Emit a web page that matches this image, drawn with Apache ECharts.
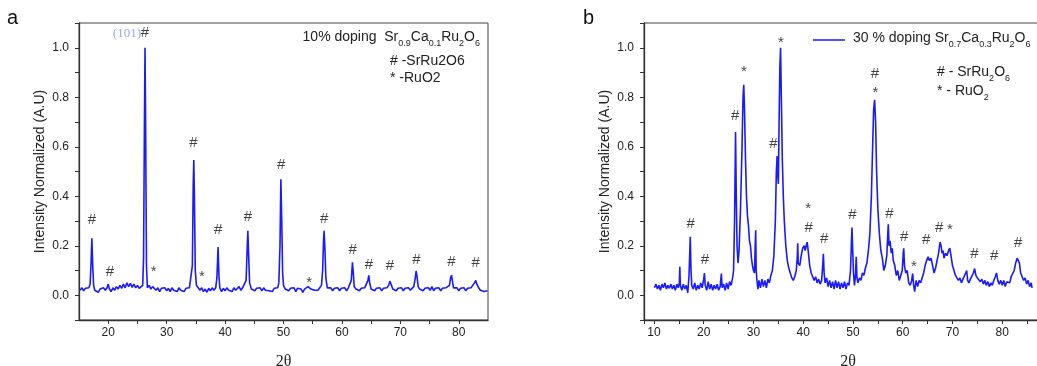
<!DOCTYPE html>
<html>
<head>
<meta charset="utf-8">
<script src="https://cdn.jsdelivr.net/npm/echarts@6/dist/echarts.min.js"></script>
<style>
  html, body { margin: 0; padding: 0; background: #fff; }
  #chart { width: 1037px; height: 366px; }
</style>
</head>
<body>
<div id="chart"></div>
<script>
// XRD pattern, 10% Ca doping (panel a): [2theta, normalized intensity]
var spectrum10 = [
  [15.2, 0.02], [15.5, 0.03], [15.8, 0.018], [16.1, 0.028], [16.4, 0.02], [16.7, 0.03], [16.9, 0.045],
  [17.05, 0.12], [17.2, 0.23], [17.35, 0.12], [17.5, 0.04], [17.7, 0.02], [18.0, 0.028], [18.3, 0.012],
  [18.6, 0.025], [18.9, 0.018], [19.2, 0.03], [19.5, 0.02], [19.8, 0.03], [20.0, 0.045], [20.2, 0.025],
  [20.5, 0.015], [20.8, 0.03], [21.1, 0.02], [21.4, 0.035], [21.7, 0.025], [22.0, 0.04], [22.3, 0.028],
  [22.6, 0.045], [22.9, 0.03], [23.2, 0.05], [23.5, 0.035], [23.8, 0.048], [24.1, 0.032], [24.4, 0.045],
  [24.7, 0.03], [25.0, 0.04], [25.3, 0.028], [25.6, 0.035], [25.9, 0.04], [26.05, 0.15], [26.2, 0.7],
  [26.3, 1.0], [26.4, 0.7], [26.55, 0.12], [26.7, 0.03], [27.0, 0.04], [27.3, 0.025], [27.6, 0.035],
  [27.9, 0.04], [28.2, 0.02], [28.5, 0.03], [28.8, 0.015], [29.1, 0.028], [29.4, 0.02], [29.7, 0.03],
  [30.0, 0.018], [30.3, 0.028], [30.6, 0.015], [30.9, 0.03], [31.2, 0.02], [31.5, 0.028], [31.8, 0.015],
  [32.1, 0.03], [32.4, 0.02], [32.7, 0.025], [33.0, 0.015], [33.3, 0.028], [33.6, 0.02], [33.9, 0.03],
  [34.2, 0.035], [34.4, 0.12], [34.55, 0.45], [34.65, 0.546], [34.75, 0.4], [34.9, 0.1], [35.1, 0.04],
  [35.4, 0.03], [35.7, 0.02], [36.0, 0.03], [36.3, 0.015], [36.6, 0.025], [36.9, 0.012], [37.2, 0.028],
  [37.5, 0.018], [37.8, 0.03], [38.1, 0.02], [38.4, 0.03], [38.6, 0.07], [38.8, 0.195], [38.95, 0.08],
  [39.1, 0.03], [39.4, 0.015], [39.7, 0.028], [40.0, 0.018], [40.3, 0.03], [40.6, 0.02], [40.9, 0.028],
  [41.2, 0.015], [41.5, 0.03], [41.8, 0.02], [42.1, 0.025], [42.4, 0.035], [42.7, 0.02], [43.0, 0.03],
  [43.3, 0.025], [43.6, 0.06], [43.8, 0.2], [43.9, 0.26], [44.05, 0.15], [44.2, 0.05], [44.5, 0.025],
  [44.8, 0.03], [45.1, 0.018], [45.4, 0.028], [45.7, 0.02], [46.0, 0.03], [46.3, 0.018], [46.6, 0.03],
  [46.9, 0.02], [47.2, 0.028], [47.5, 0.018], [47.8, 0.025], [48.1, 0.015], [48.4, 0.028], [48.7, 0.02],
  [49.0, 0.03], [49.2, 0.05], [49.4, 0.2], [49.55, 0.469], [49.7, 0.3], [49.85, 0.09], [50.0, 0.04],
  [50.3, 0.025], [50.6, 0.03], [50.9, 0.018], [51.2, 0.028], [51.5, 0.02], [51.8, 0.03], [52.1, 0.015],
  [52.4, 0.028], [52.7, 0.02], [53.0, 0.025], [53.3, 0.012], [53.6, 0.025], [53.9, 0.02], [54.2, 0.035],
  [54.4, 0.04], [54.7, 0.025], [55.0, 0.03], [55.3, 0.02], [55.6, 0.028], [55.9, 0.02], [56.2, 0.03],
  [56.5, 0.04], [56.7, 0.1], [56.85, 0.22], [56.95, 0.26], [57.1, 0.18], [57.25, 0.07], [57.5, 0.03],
  [57.8, 0.025], [58.1, 0.03], [58.4, 0.018], [58.7, 0.028], [59.0, 0.02], [59.3, 0.03], [59.6, 0.018],
  [59.9, 0.028], [60.2, 0.02], [60.5, 0.03], [60.8, 0.018], [61.1, 0.03], [61.4, 0.025], [61.6, 0.06],
  [61.8, 0.133], [61.95, 0.09], [62.1, 0.035], [62.4, 0.025], [62.7, 0.03], [63.0, 0.018], [63.3, 0.028],
  [63.6, 0.02], [63.9, 0.03], [64.2, 0.025], [64.45, 0.06], [64.6, 0.08], [64.75, 0.05], [65.0, 0.025],
  [65.3, 0.03], [65.6, 0.018], [65.9, 0.028], [66.2, 0.02], [66.5, 0.03], [66.8, 0.018], [67.1, 0.028],
  [67.4, 0.02], [67.7, 0.03], [68.0, 0.04], [68.2, 0.057], [68.4, 0.045], [68.7, 0.025], [69.0, 0.03],
  [69.3, 0.018], [69.6, 0.028], [69.9, 0.02], [70.2, 0.03], [70.5, 0.018], [70.8, 0.028], [71.1, 0.02],
  [71.4, 0.03], [71.7, 0.02], [72.0, 0.028], [72.3, 0.035], [72.55, 0.07], [72.7, 0.098], [72.85, 0.075],
  [73.05, 0.035], [73.3, 0.025], [73.6, 0.03], [73.9, 0.018], [74.2, 0.028], [74.5, 0.02], [74.8, 0.03],
  [75.1, 0.02], [75.4, 0.035], [75.7, 0.018], [76.0, 0.028], [76.3, 0.02], [76.6, 0.03], [76.9, 0.018],
  [77.2, 0.028], [77.5, 0.02], [77.8, 0.03], [78.1, 0.025], [78.4, 0.04], [78.6, 0.07], [78.75, 0.081],
  [78.9, 0.06], [79.1, 0.03], [79.4, 0.025], [79.7, 0.03], [80.0, 0.018], [80.3, 0.028], [80.6, 0.02],
  [80.9, 0.03], [81.2, 0.018], [81.5, 0.028], [81.8, 0.02], [82.1, 0.03], [82.4, 0.035], [82.7, 0.05],
  [82.9, 0.06], [83.1, 0.045], [83.4, 0.03], [83.7, 0.02], [84.0, 0.025], [84.3, 0.015], [84.6, 0.022],
  [84.9, 0.018]
];

// XRD pattern, 30% Ca doping (panel b)
var spectrum30 = [
  [10.1, 0.03], [10.4, 0.045], [10.7, 0.025], [11.0, 0.04], [11.3, 0.02], [11.6, 0.045], [11.9, 0.03],
  [12.2, 0.05], [12.5, 0.025], [12.8, 0.04], [13.1, 0.028], [13.4, 0.045], [13.7, 0.025], [14.0, 0.04],
  [14.3, 0.02], [14.6, 0.045], [14.9, 0.03], [15.1, 0.05], [15.2, 0.115], [15.3, 0.04], [15.6, 0.02],
  [15.9, 0.045], [16.2, 0.025], [16.5, 0.04], [16.8, 0.01], [17.05, 0.08], [17.3, 0.236], [17.45, 0.1],
  [17.6, 0.04], [17.9, 0.025], [18.2, 0.05], [18.5, 0.02], [18.8, 0.04], [19.1, 0.025], [19.4, 0.05],
  [19.7, 0.03], [20.0, 0.065], [20.15, 0.09], [20.3, 0.04], [20.6, 0.02], [20.9, 0.055], [21.2, 0.025],
  [21.5, 0.045], [21.8, 0.02], [22.1, 0.04], [22.4, 0.025], [22.7, 0.045], [23.0, 0.02], [23.3, 0.035],
  [23.55, 0.088], [23.7, 0.03], [24.0, 0.045], [24.3, 0.02], [24.6, 0.05], [24.9, 0.025], [25.2, 0.055],
  [25.5, 0.04], [25.8, 0.07], [26.0, 0.1], [26.2, 0.3], [26.4, 0.66], [26.55, 0.4], [26.7, 0.2],
  [26.9, 0.13], [27.1, 0.18], [27.4, 0.35], [27.7, 0.6], [27.9, 0.8], [28.05, 0.85], [28.2, 0.75],
  [28.4, 0.55], [28.6, 0.4], [28.8, 0.32], [29.0, 0.28], [29.2, 0.22], [29.4, 0.2], [29.6, 0.15],
  [29.8, 0.12], [30.0, 0.1], [30.2, 0.09], [30.35, 0.2], [30.45, 0.263], [30.55, 0.1], [30.7, 0.06],
  [30.9, 0.025], [31.1, 0.06], [31.4, 0.03], [31.7, 0.065], [32.0, 0.035], [32.3, 0.06], [32.6, 0.03],
  [32.9, 0.065], [33.2, 0.05], [33.5, 0.08], [33.8, 0.1], [34.1, 0.16], [34.4, 0.3], [34.6, 0.5],
  [34.75, 0.562], [34.9, 0.48], [35.0, 0.45], [35.15, 0.7], [35.3, 0.92], [35.45, 1.0], [35.6, 0.8],
  [35.8, 0.55], [36.0, 0.4], [36.2, 0.3], [36.5, 0.2], [36.8, 0.14], [37.1, 0.11], [37.4, 0.09],
  [37.7, 0.07], [38.0, 0.06], [38.3, 0.075], [38.6, 0.1], [38.8, 0.15], [38.9, 0.21], [39.0, 0.13],
  [39.3, 0.12], [39.6, 0.16], [39.9, 0.19], [40.2, 0.2], [40.4, 0.18], [40.6, 0.2], [40.8, 0.215],
  [41.0, 0.18], [41.3, 0.12], [41.6, 0.09], [41.9, 0.075], [42.2, 0.06], [42.5, 0.075], [42.8, 0.05],
  [43.1, 0.065], [43.4, 0.045], [43.7, 0.06], [43.95, 0.13], [44.05, 0.168], [44.2, 0.09], [44.4, 0.05],
  [44.7, 0.07], [45.0, 0.035], [45.3, 0.06], [45.6, 0.03], [45.9, 0.055], [46.2, 0.025], [46.5, 0.06],
  [46.8, 0.03], [47.1, 0.055], [47.4, 0.025], [47.7, 0.05], [48.0, 0.03], [48.3, 0.055], [48.6, 0.025],
  [48.9, 0.05], [49.2, 0.04], [49.5, 0.1], [49.7, 0.22], [49.8, 0.274], [49.95, 0.18], [50.1, 0.09],
  [50.3, 0.04], [50.5, 0.08], [50.65, 0.155], [50.8, 0.07], [51.0, 0.05], [51.3, 0.07], [51.6, 0.06],
  [51.9, 0.09], [52.2, 0.08], [52.5, 0.11], [52.8, 0.13], [53.1, 0.18], [53.4, 0.25], [53.7, 0.4],
  [53.95, 0.6], [54.15, 0.75], [54.35, 0.79], [54.55, 0.7], [54.75, 0.5], [55.0, 0.35], [55.3, 0.25],
  [55.6, 0.18], [55.9, 0.15], [56.2, 0.1], [56.5, 0.12], [56.8, 0.16], [57.0, 0.25], [57.1, 0.287],
  [57.25, 0.2], [57.45, 0.22], [57.7, 0.17], [57.9, 0.19], [58.1, 0.14], [58.4, 0.12], [58.7, 0.08],
  [59.0, 0.1], [59.3, 0.06], [59.6, 0.08], [59.9, 0.1], [60.1, 0.17], [60.2, 0.19], [60.35, 0.12],
  [60.6, 0.09], [60.9, 0.1], [61.2, 0.05], [61.5, 0.04], [61.8, 0.06], [62.0, 0.088], [62.2, 0.04],
  [62.4, 0.015], [62.7, 0.06], [63.0, 0.035], [63.3, 0.06], [63.6, 0.05], [63.9, 0.07], [64.2, 0.09],
  [64.5, 0.12], [64.8, 0.14], [65.1, 0.155], [65.4, 0.14], [65.7, 0.15], [66.0, 0.12], [66.3, 0.09],
  [66.6, 0.11], [66.9, 0.14], [67.2, 0.17], [67.5, 0.215], [67.7, 0.2], [67.9, 0.17], [68.1, 0.18],
  [68.3, 0.15], [68.6, 0.17], [68.9, 0.16], [69.2, 0.18], [69.45, 0.19], [69.7, 0.16], [70.0, 0.12],
  [70.3, 0.1], [70.6, 0.08], [70.9, 0.085], [71.2, 0.06], [71.5, 0.07], [71.8, 0.05], [72.1, 0.065],
  [72.4, 0.06], [72.65, 0.09], [72.85, 0.1], [73.05, 0.06], [73.3, 0.05], [73.6, 0.065], [73.9, 0.07],
  [74.2, 0.09], [74.45, 0.108], [74.7, 0.08], [75.0, 0.07], [75.3, 0.075], [75.6, 0.055], [75.9, 0.065],
  [76.2, 0.045], [76.5, 0.06], [76.8, 0.04], [77.1, 0.055], [77.4, 0.035], [77.7, 0.05], [78.0, 0.04],
  [78.3, 0.06], [78.6, 0.075], [78.85, 0.09], [79.1, 0.06], [79.4, 0.045], [79.7, 0.06], [80.0, 0.04],
  [80.3, 0.06], [80.6, 0.035], [80.9, 0.055], [81.2, 0.06], [81.5, 0.05], [81.8, 0.075], [82.1, 0.08],
  [82.4, 0.1], [82.7, 0.13], [83.0, 0.15], [83.2, 0.157], [83.45, 0.13], [83.7, 0.09], [84.0, 0.075],
  [84.3, 0.06], [84.6, 0.07], [84.9, 0.045], [85.2, 0.06], [85.5, 0.035], [85.8, 0.05], [86.0, 0.03]
];

// phase markers: [2theta, height, symbol]   # = SrRu2O6, * = RuO2
var marks10 = [
  [17.2, 0.303, '#'], [20.3, 0.093, '#'], [26.3, 1.06, '#'], [27.8, 0.105, '*'], [34.6, 0.616, '#'],
  [36.05, 0.085, '*'], [38.8, 0.263, '#'], [43.9, 0.317, '#'], [49.6, 0.526, '#'], [54.4, 0.063, '*'],
  [56.95, 0.31, '#'], [61.85, 0.182, '#'], [64.6, 0.124, '#'], [68.2, 0.119, '#'], [72.75, 0.144, '#'],
  [78.75, 0.135, '#'], [82.9, 0.132, '#']
];
var miller10 = [[26.3, 1.06, '(101)']];
var marks30 = [
  [17.4, 0.287, '#'], [20.26, 0.144, '#'], [26.3, 0.725, '#'], [28.1, 0.914, '*'], [34.0, 0.613, '#'],
  [35.5, 1.031, '*'], [41.0, 0.361, '*'], [41.1, 0.272, '#'], [44.2, 0.229, '#'], [49.9, 0.326, '#'],
  [54.4, 0.894, '#'], [54.5, 0.829, '*'], [57.3, 0.33, '#'], [60.3, 0.236, '#'], [62.26, 0.128, '*'],
  [64.7, 0.225, '#'], [67.3, 0.272, '#'], [69.5, 0.276, '*'], [74.4, 0.169, '#'], [78.4, 0.159, '#'],
  [83.2, 0.213, '#']
];

var xTickLabels = [10, 20, 30, 40, 50, 60, 70, 80];
var yTickLabels = ['0.0', '0.2', '0.4', '0.6', '0.8', '1.0'];

var FONT = '"Liberation Sans", Arial, sans-serif';
var SERIF = '"Liberation Serif", "Times New Roman", serif';
var BLUE = '#1a1aff';
var INK = '#222';

var chart = echarts.init(document.getElementById('chart'));

var richSub = {
  n: { fontFamily: FONT, fontSize: 14, fontWeight: 'normal', lineHeight: 18, verticalAlign: 'top', color: INK },
  s: { fontFamily: FONT, fontSize: 9, fontWeight: 'normal', lineHeight: 9, padding: [9, 0, 0, 0], verticalAlign: 'top', color: INK }
};

function xAxisFor(gi, min, max, interval) {
  var ax = {
    type: 'value', gridIndex: gi, min: min, max: max,
    name: '2\u03b8', nameLocation: 'middle', nameGap: 34,
    nameTextStyle: { fontFamily: SERIF, fontSize: 16, color: INK },
    axisLine: { onZero: false, lineStyle: { color: '#333', width: 1.3 } },
    axisTick: { length: 4, lineStyle: { color: '#333' } },
    axisLabel: {
      margin: 7, fontFamily: FONT, fontSize: 12, color: INK,
      showMinLabel: false, showMaxLabel: false,
      formatter: function (v) { return xTickLabels.indexOf(Math.round(v)) >= 0 && Math.abs(v - Math.round(v)) < 1e-6 ? String(Math.round(v)) : ''; }
    },
    splitLine: { show: false }
  };
  if (interval) {
    ax.interval = interval;
  } else {
    ax.splitNumber = 8;
    ax.minorTick = { show: true, splitNumber: 2, length: 4, lineStyle: { color: '#333' } };
  }
  return ax;
}

function yAxisFor(gi) {
  return {
    type: 'value', gridIndex: gi, min: -0.1, max: 1.1, interval: 0.1,
    name: 'Intensity Normalized (A.U)', nameLocation: 'middle', nameGap: 32,
    nameTextStyle: { fontFamily: FONT, fontSize: 14, color: INK },
    axisLine: { show: true, onZero: false, lineStyle: { color: '#333', width: 1.3 } },
    axisTick: { show: true, length: 4, lineStyle: { color: '#333' } },
    axisLabel: {
      margin: 10, fontFamily: FONT, fontSize: 12, color: INK,
      formatter: function (v) {
        var s = (Math.abs(v) < 1e-9 ? 0 : v).toFixed(1);
        return yTickLabels.indexOf(s) >= 0 ? s : '';
      }
    },
    splitLine: { show: false }
  };
}

function markSeries(marks, gi) {
  return {
    type: 'scatter', xAxisIndex: gi, yAxisIndex: gi, symbolSize: 1, silent: true, z: 5,
    itemStyle: { color: 'rgba(0,0,0,0)' },
    label: { show: true, position: 'inside', formatter: '{b}', fontFamily: FONT, fontSize: 15, color: '#111' },
    data: marks.map(function (m) {
      return { name: m[2], value: [m[0], m[1]], label: { offset: m[2] === '*' ? [0, 3] : [0, 0] } };
    })
  };
}

var plainText = { fontFamily: FONT, fontSize: 14, fontWeight: 'normal', color: INK };

var option = {
  animation: false,
  backgroundColor: '#fff',
  title: [
    { text: 'a', left: 7, top: 8, padding: 0, textStyle: { fontFamily: FONT, fontSize: 20, fontWeight: 'normal', color: '#111' } },
    { text: 'b', left: 583, top: 8, padding: 0, textStyle: { fontFamily: FONT, fontSize: 20, fontWeight: 'normal', color: '#111' } },
    {
      text: '{n|10% doping  Sr}{s|0.9}{n|Ca}{s|0.1}{n|Ru}{s|2}{n|O}{s|6}',
      right: 557, top: 30, padding: 0, textStyle: { fontWeight: 'normal', rich: richSub }
    },
    { text: '# -SrRu2O6', left: 390, top: 54, padding: 0, textStyle: plainText },
    { text: '* -RuO2', left: 390, top: 71, padding: 0, textStyle: plainText },
    {
      text: '{n|# - SrRu}{s|2}{n|O}{s|6}',
      left: 937, top: 65, padding: 0, textStyle: { fontWeight: 'normal', rich: richSub }
    },
    {
      text: '{n|* - RuO}{s|2}',
      left: 937, top: 84, padding: 0, textStyle: { fontWeight: 'normal', rich: richSub }
    }
  ],
  legend: {
    left: 813, top: 31, padding: 0, selectedMode: false,
    icon: 'rect', itemWidth: 32, itemHeight: 1.5, itemGap: 0,
    data: ['30 % doping'],
    formatter: function () { return '{n|30 % doping Sr}{s|0.7}{n|Ca}{s|0.3}{n|Ru}{s|2}{n|O}{s|6}'; },
    textStyle: { padding: [0, 0, 0, 3], rich: richSub }
  },
  grid: [
    { left: 79, top: 23, width: 409, height: 297, outerBoundsMode: 'none', containLabel: false,
      show: true, borderColor: '#444', borderWidth: 1, backgroundColor: 'transparent' },
    { left: 644, top: 23, width: 408, height: 297, outerBoundsMode: 'none', containLabel: false,
      show: true, borderColor: '#444', borderWidth: 1, backgroundColor: 'transparent' }
  ],
  xAxis: [xAxisFor(0, 15, 85, 5), xAxisFor(1, 8, 90)],
  yAxis: [yAxisFor(0), yAxisFor(1)],
  series: [
    {
      name: '10 % doping', type: 'line', xAxisIndex: 0, yAxisIndex: 0, data: spectrum10,
      symbol: 'none', silent: true, lineStyle: { color: BLUE, width: 1.6 }, itemStyle: { color: BLUE }
    },
    {
      name: '30 % doping', type: 'line', xAxisIndex: 1, yAxisIndex: 1, data: spectrum30,
      symbol: 'none', silent: true, lineStyle: { color: BLUE, width: 1.6 }, itemStyle: { color: BLUE }
    },
    markSeries(marks10, 0),
    markSeries(marks30, 1),
    {
      type: 'scatter', xAxisIndex: 0, yAxisIndex: 0, symbolSize: 1, silent: true, z: 5,
      itemStyle: { color: 'rgba(0,0,0,0)' },
      label: {
        show: true, position: 'inside', align: 'right', offset: [-4, 1], formatter: '{b}',
        fontFamily: SERIF, fontSize: 13, color: '#7a93ee'
      },
      data: miller10.map(function (m) { return { name: m[2], value: [m[0], m[1]] }; })
    }
  ]
};

chart.setOption(option);
</script>
</body>
</html>
